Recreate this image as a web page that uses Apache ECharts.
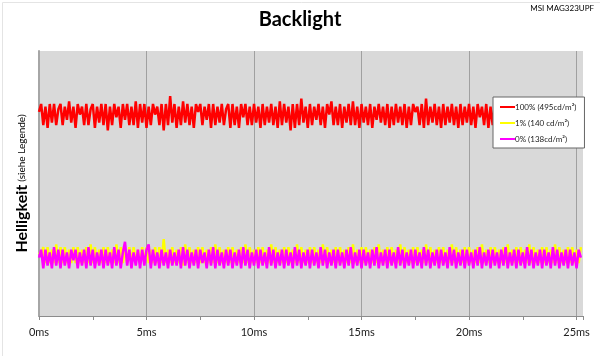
<!DOCTYPE html>
<html>
<head>
<meta charset="utf-8">
<script src="https://cdn.jsdelivr.net/npm/echarts@6/dist/echarts.min.js"></script>
<style>
html,body{margin:0;padding:0;background:#fff;}
#c{width:600px;height:356px;}
</style>
</head>
<body>
<div id="c"></div>
<script>
// ---- data (brightness in % of axis height), sampled every 0.1 ms ----
const sampleStepMs = 0.1;
const seriesNames = ['100% (495cd/m²)', '1% (140 cd/m²)', '0% (138cd/m²)'];
const xTickLabels = ['0ms', '5ms', '10ms', '15ms', '20ms', '25ms'];
const red = [
77,80,72,79,71,80,73,80,72,78,
80,72,79,74,81,73,79,71,80,76,
79,72,80,72,78,80,71,79,73,80,
72,80,70,79,72,80,75,79,71,80,
74,80,72,79,72,81,71,80,73,80,
71,79,72,80,76,79,72,80,70,80,
72,83,73,80,71,79,72,81,73,80,
72,79,71,80,77,80,72,79,74,80,
71,80,72,79,73,80,72,78,80,71,
80,72,79,71,80,75,80,72,79,72,
80,73,79,71,80,72,79,73,80,72,
79,71,81,72,80,73,79,70,80,71,
80,72,82,73,79,71,80,72,79,74,
80,72,79,71,80,76,81,72,79,72,
80,71,79,73,80,72,81,72,79,71,
80,73,79,72,80,71,79,74,80,73,
79,72,80,71,79,72,80,73,79,72,
80,71,79,72,80,77,79,72,80,71,
82,72,79,73,80,72,79,71,80,72,
79,73,80,72,79,71,80,72,79,73,
80,72,79,71,80,75,79,72,80,71,
79,72,80,73,79,72,80,71,79,72,
80,73,79,72,80,71,79,72,80,73,
79,72,80,71,79,72,80,73,79,72,
80,71,79,72,80,73,79,72,80,71,
79,72,78];
const yellow = [
24,23,26,20,26,20,25,20,27,20,
26,20,26,20,25,20,26,20,26,20,
25,20,26,20,27,20,26,20,25,20,
26,20,26,20,25,20,27,20,26,20,
25,20,26,20,26,20,25,20,26,20,
26,20,25,20,26,20,26,20,29,20,
25,20,26,20,25,20,26,19,27,20,
26,20,25,20,26,20,26,20,25,20,
26,20,27,20,26,20,25,20,26,20,
26,20,25,20,26,20,27,20,26,20,
25,20,26,20,26,20,25,20,27,20,
26,20,25,20,26,20,26,20,25,20,
27,20,26,20,25,20,26,20,26,20,
25,20,27,20,26,20,25,20,26,20,
26,20,25,20,26,20,27,20,25,20,
26,20,26,20,25,20,26,20,27,20,
25,20,26,20,26,20,25,20,27,20,
26,20,25,20,26,20,26,20,25,20,
27,20,26,20,25,20,26,20,26,20,
25,20,27,20,26,20,25,20,26,20,
26,20,25,20,26,20,27,20,25,20,
26,20,26,20,25,20,26,20,27,20,
25,20,26,20,26,20,25,20,27,20,
26,20,25,20,26,20,26,20,25,20,
27,20,26,20,25,20,26,20,26,20,
25,20,26];
const magenta = [
22,25,18,25,19,24,18,26,19,25,
18,25,19,24,18,25,21,25,18,24,
19,25,18,26,19,25,18,24,19,25,
18,25,19,24,18,26,19,25,18,24,
28,19,25,18,24,19,25,18,25,19,
25,27,18,25,19,24,18,25,19,24,
18,25,19,24,19,25,18,26,19,25,
18,24,19,25,18,25,20,24,18,25,
19,26,18,25,19,24,18,25,19,25,
18,24,19,25,18,26,19,25,18,24,
19,25,18,25,19,24,18,26,19,25,
18,24,19,25,18,25,19,24,18,26,
19,25,18,24,19,25,18,25,19,24,
18,26,19,25,18,24,19,25,18,25,
19,24,18,25,19,26,18,24,19,25,
18,25,19,24,18,25,19,26,18,24,
19,25,18,25,19,24,18,26,19,25,
18,24,19,25,18,25,19,24,18,26,
19,25,18,24,19,25,18,25,19,24,
18,26,19,25,18,24,19,25,18,25,
19,24,18,25,19,26,18,24,19,25,
18,25,19,24,18,25,19,26,18,24,
19,25,18,25,19,24,18,26,19,25,
18,24,19,25,18,25,19,24,18,26,
19,25,18,24,19,25,18,25,19,24,
18,25,22];

const times = red.map((_, i) => Math.round(i * sampleStepMs * 100) / 100);
const pairs = arr => arr.map((v, i) => [times[i], v]);

const FONT = 'Lato, "Open Sans", sans-serif';
const chart = echarts.init(document.getElementById('c'), null, {renderer: 'canvas'});
chart.setOption({
  animation: false,
  backgroundColor: '#fff',
  textStyle: {fontFamily: FONT},
  title: {
    text: 'Backlight', left: 'center', top: 5,
    textStyle: {fontFamily: FONT, fontSize: 20, fontWeight: 'bold', color: '#000'}
  },
  graphic: [
    {type: 'rect', left: 0, top: 0, shape: {width: 599, height: 355}, style: {fill: 'none', stroke: '#e4e4e4', lineWidth: 1}, silent: true},
    {type: 'text', right: 6, top: 4, style: {text: 'MSI MAG323UPF', font: '8px ' + FONT, fill: '#000'}}
  ],
  legend: {
    orient: 'vertical', left: 493, top: 97,
    backgroundColor: '#fff', borderColor: '#666', borderWidth: 1,
    padding: [5, 8, 4, 7], itemGap: 6,
    itemWidth: 15, itemHeight: 2, icon: 'rect',
    textStyle: {fontFamily: FONT, fontSize: 8, color: '#222', padding: [0, 0, 0, -5], lineHeight: 10},
    data: seriesNames
  },
  grid: {left: 39, top: 51, right: 17, bottom: 40, show: true, backgroundColor: '#d9d9d9', borderWidth: 0},
  xAxis: {
    type: 'value', min: 0, max: 25.3, interval: 5,
    axisLine: {show: true, lineStyle: {color: '#8c8c8c', width: 1}},
    axisTick: {show: true, length: 4, lineStyle: {color: '#8c8c8c'}},
    minorTick: {show: true, splitNumber: 2, length: 4, lineStyle: {color: '#8c8c8c'}},
    splitLine: {show: true, showMaxLine: false, lineStyle: {color: '#a0a0a0', width: 1}},
    axisLabel: {
      margin: 11, fontSize: 11, color: '#222', fontFamily: FONT, showMaxLabel: false,
      formatter: v => (Math.abs(v % 5) < 1e-6 ? xTickLabels[Math.round(v / 5)] : '')
    }
  },
  yAxis: {
    type: 'value', min: 0, max: 100,
    axisLine: {show: true, lineStyle: {color: '#a6a6a6', width: 2}},
    axisTick: {show: false}, axisLabel: {show: false}, splitLine: {show: false},
    name: '{a|Helligkeit} {b|(siehe Legende)}',
    nameLocation: 'middle', nameRotate: 90, nameGap: 9,
    nameTextStyle: {
      rich: {
        a: {fontSize: 16, fontWeight: 'bold', color: '#000', fontFamily: FONT},
        b: {fontSize: 10, color: '#000', fontFamily: FONT}
      }
    }
  },
  series: [
    {name: seriesNames[0], type: 'line', data: pairs(red), symbol: 'none', lineStyle: {color: '#ff0000', width: 2.5}, itemStyle: {color: '#ff0000'}, z: 3},
    {name: seriesNames[1], type: 'line', data: pairs(yellow), symbol: 'none', lineStyle: {color: '#ffff00', width: 2.5}, itemStyle: {color: '#ffff00'}, z: 3},
    {name: seriesNames[2], type: 'line', data: pairs(magenta), symbol: 'none', lineStyle: {color: '#ff00ff', width: 2.5}, itemStyle: {color: '#ff00ff'}, z: 4}
  ]
});
</script>
</body>
</html>
